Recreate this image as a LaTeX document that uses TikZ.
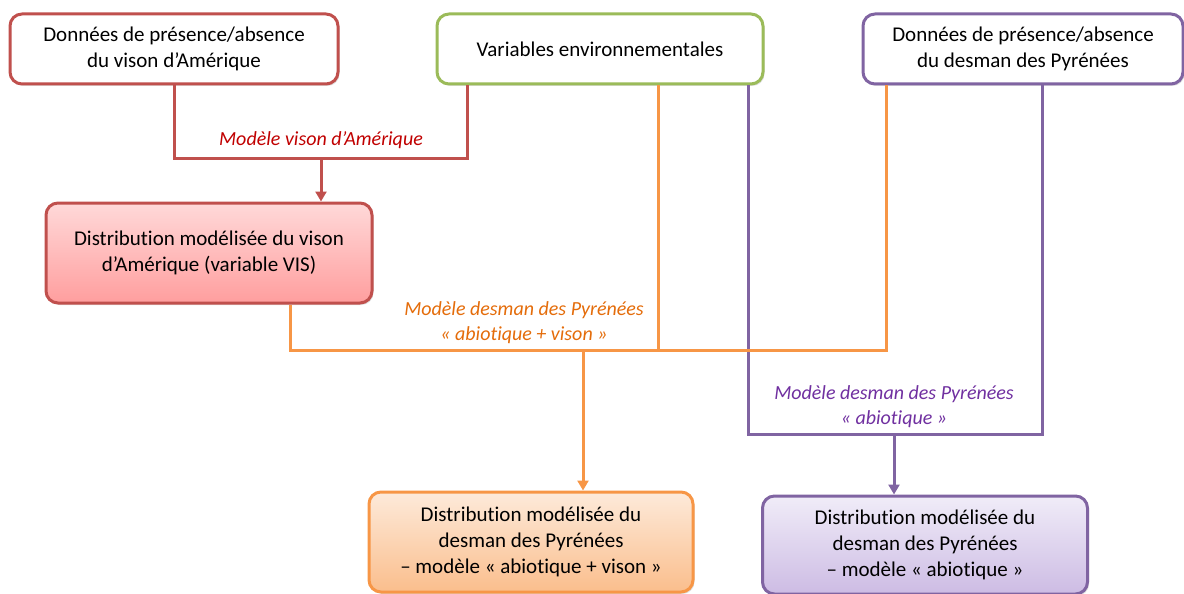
\documentclass[tikz,border=0pt]{standalone}
\usepackage{fontspec}
\setmainfont{Carlito}[Ligatures=NoCommon]
\usepackage{tikz}
\usetikzlibrary{arrows.meta,shadows}
\definecolor{visred}{RGB}{192,80,77}
\definecolor{vistext}{RGB}{192,0,0}
\definecolor{envgreen}{RGB}{155,187,89}
\definecolor{desorange}{RGB}{247,150,70}
\definecolor{destext}{RGB}{228,108,10}
\definecolor{despurple}{RGB}{128,100,162}
\definecolor{abiotext}{RGB}{112,48,160}
\definecolor{lavtop}{RGB}{240,236,248}
\definecolor{lavbot}{RGB}{205,188,228}
\tikzset{
  box/.style={draw=#1,line width=3pt,rounded corners=12pt,align=center,
    inner sep=0pt,font=\fontsize{21}{26}\selectfont,
    drop shadow={shadow xshift=1.5pt,shadow yshift=-2pt,opacity=.25}},
  databox/.style={box=#1,fill=white,minimum height=70pt},
  distbox/.style={box=#1,minimum height=100pt},
  link/.style={draw=#1,line width=3pt},
  linkto/.style={link=#1,-{Triangle[width=11pt,length=10pt]}},
  modlabel/.style={text=#1,align=center,font=\fontsize{20}{25}\selectfont\itshape},
}

\begin{document}
\begin{tikzpicture}[x=1pt,y=-1pt]
    \useasboundingbox (0,0) rectangle (1184,594);
    % donnees et variables
    \node[databox=visred,minimum width=328pt] (visdata) at (174,49)
      {Données de présence/absence\\du vison d’Amérique};
    \node[databox=envgreen,minimum width=326pt] (envvar) at (600,49)
      {Variables environnementales};
    \node[databox=despurple,minimum width=320pt] (desdata) at (1023,49)
      {Données de présence/absence\\du desman des Pyrénées};
    % distributions
    \node[distbox=visred,minimum width=326pt,
      top color=red!15,bottom color=red!38] (visdist) at (209,253)
      {Distribution modélisée du vison\\d’Amérique (variable VIS)};
    \node[distbox=desorange,minimum width=324pt,minimum height=100pt,
      top color=desorange!20,bottom color=desorange!62] (desvis) at (531,542)
      {Distribution modélisée du\\desman des Pyrénées\\– modèle « abiotique + vison »};
    \node[distbox=despurple,minimum width=325pt,minimum height=98pt,
      top color=lavtop,bottom color=lavbot] (desabio) at (925,545)
      {Distribution modélisée du\\desman des Pyrénées\\– modèle « abiotique »};
    % modele vison
    \coordinate (rmid) at (321,158);
    \coordinate (rright) at (467,158);
    \draw[link=visred] (visdata.south) |- (rright) -- (rright |- envvar.south);
    \draw[linkto=visred] (rmid) -- (rmid |- visdist.north);
    \node[modlabel=vistext] (vislab) at (321,140) {Modèle vison d’Amérique};
    % modele abiotique
    \coordinate (pleft) at (748,434);
    \coordinate (pright) at (1042,434);
    \coordinate (pmid) at (894,434);
    \draw[link=despurple] (pleft |- envvar.south) -- (pleft) -- (pright)
      -- (pright |- desdata.south);
    \draw[linkto=despurple] (pmid) -- (pmid |- desabio.north);
    \node[modlabel=abiotext] (abiolab) at (894,407)
      {Modèle desman des Pyrénées\\« abiotique »};
    % modele abiotique + vison
    \coordinate (oleft) at (290,350);
    \coordinate (oright) at (886,350);
    \coordinate (oenv) at (658,350);
    \coordinate (omid) at (583,350);
    \draw[link=desorange] (oleft |- visdist.south) -- (oleft) -- (oright)
      -- (oright |- desdata.south);
    \draw[link=desorange] (oenv |- envvar.south) -- (oenv);
    \draw[linkto=desorange] (omid) -- (omid |- desvis.north);
    \node[modlabel=destext] (vislab2) at (524,323)
      {Modèle desman des Pyrénées\\« abiotique + vison »};
  \end{tikzpicture}
\end{document}
